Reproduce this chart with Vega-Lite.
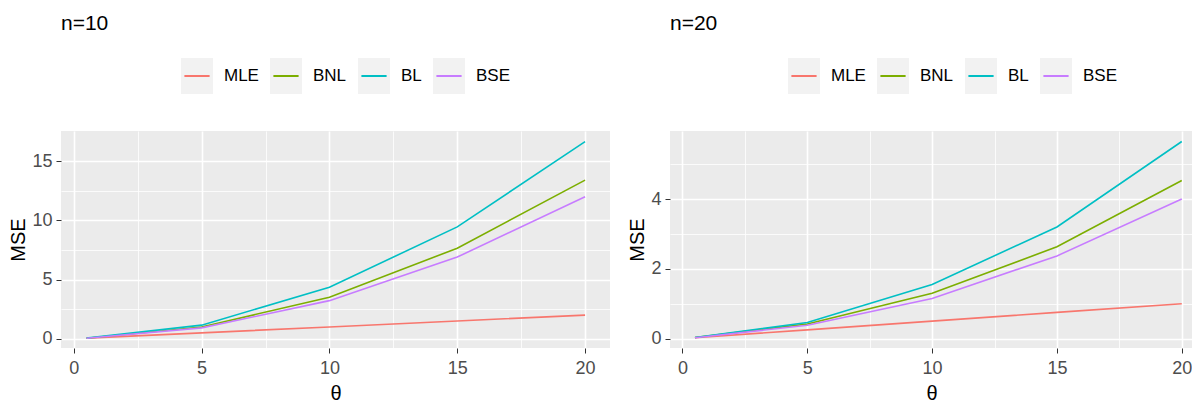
{
  "$schema": "https://vega.github.io/schema/vega-lite/v6.json",
  "padding": {"left": 8, "top": 13, "right": 0, "bottom": 0},
  "config": {
    "font": "Liberation Sans",
    "view": {"fill": "#EBEBEB", "stroke": null},
    "concat": {"spacing": 17},
    "axis": {
      "domain": false,
      "gridColor": "white",
      "tickColor": "#333333",
      "tickSize": 5,
      "labelColor": "#4D4D4D",
      "labelFontSize": 18,
      "labelFont": "Liberation Sans",
      "titleFont": "Liberation Sans",
      "titleFontSize": 20,
      "titleFontWeight": "normal",
      "titleColor": "#000000"
    },
    "legend": {
      "padding": 0,
      "labelFont": "Liberation Sans",
      "labelFontSize": 17,
      "labelColor": "#000000",
      "labelOffset": 8,
      "columnPadding": 6,
      "symbolSize": 1296,
      "symbolType": "M-0.7,0H0.89V-1H-0.89V1H0.89V0Z",
      "symbolFillColor": "#F2F2F2",
      "symbolStrokeWidth": 2,
      "symbolDash": [25.2, 400],
      "orient": "none",
      "direction": "horizontal",
      "title": null
    },
    "title": {"anchor": "start", "frame": "group", "fontSize": 21, "fontWeight": "normal", "color": "#000000", "font": "Liberation Sans", "offset": 23}
  },
  "datasets": {
    "d10": [
      {"theta": 0.5, "method": "MLE", "mse": 0.05},
      {"theta": 5, "method": "MLE", "mse": 0.5},
      {"theta": 10, "method": "MLE", "mse": 1.0},
      {"theta": 15, "method": "MLE", "mse": 1.5},
      {"theta": 20, "method": "MLE", "mse": 2.0},
      {"theta": 0.5, "method": "BNL", "mse": 0.05},
      {"theta": 5, "method": "BNL", "mse": 1.0},
      {"theta": 10, "method": "BNL", "mse": 3.5},
      {"theta": 15, "method": "BNL", "mse": 7.65},
      {"theta": 20, "method": "BNL", "mse": 13.4},
      {"theta": 0.5, "method": "BL", "mse": 0.06},
      {"theta": 5, "method": "BL", "mse": 1.15},
      {"theta": 10, "method": "BL", "mse": 4.35},
      {"theta": 15, "method": "BL", "mse": 9.45},
      {"theta": 20, "method": "BL", "mse": 16.65},
      {"theta": 0.5, "method": "BSE", "mse": 0.04},
      {"theta": 5, "method": "BSE", "mse": 0.92},
      {"theta": 10, "method": "BSE", "mse": 3.22},
      {"theta": 15, "method": "BSE", "mse": 6.9},
      {"theta": 20, "method": "BSE", "mse": 12.0}
    ],
    "d20": [
      {"theta": 0.5, "method": "MLE", "mse": 0.025},
      {"theta": 5, "method": "MLE", "mse": 0.25},
      {"theta": 10, "method": "MLE", "mse": 0.5},
      {"theta": 15, "method": "MLE", "mse": 0.75},
      {"theta": 20, "method": "MLE", "mse": 1.0},
      {"theta": 0.5, "method": "BNL", "mse": 0.03},
      {"theta": 5, "method": "BNL", "mse": 0.42},
      {"theta": 10, "method": "BNL", "mse": 1.3},
      {"theta": 15, "method": "BNL", "mse": 2.63},
      {"theta": 20, "method": "BNL", "mse": 4.53},
      {"theta": 0.5, "method": "BL", "mse": 0.03},
      {"theta": 5, "method": "BL", "mse": 0.46},
      {"theta": 10, "method": "BL", "mse": 1.55},
      {"theta": 15, "method": "BL", "mse": 3.2},
      {"theta": 20, "method": "BL", "mse": 5.65},
      {"theta": 0.5, "method": "BSE", "mse": 0.025},
      {"theta": 5, "method": "BSE", "mse": 0.38},
      {"theta": 10, "method": "BSE", "mse": 1.15},
      {"theta": 15, "method": "BSE", "mse": 2.37},
      {"theta": 20, "method": "BSE", "mse": 4.0}
    ]
  },
  "hconcat": [
    {
      "title": {"text": "n=10"},
      "width": 549,
      "height": 217,
      "data": {"name": "d10"},
      "mark": {"type": "line", "strokeWidth": 1.6},
      "encoding": {
        "x": {"field": "theta", "type": "quantitative", "title": "θ",
          "scale": {"domain": [-0.5, 20.975], "nice": false, "zero": false},
          "axis": {"values": [0, 2.5, 5, 7.5, 10, 12.5, 15, 17.5, 20], "labelExpr": "datum.value % 5 === 0 ? datum.label : ''",
            "gridWidth": {"condition": {"test": "datum.value % 5 !== 0", "value": 0.8}, "value": 1.6},
            "tickOpacity": {"condition": {"test": "datum.value % 5 !== 0", "value": 0}, "value": 1},
            "labelPadding": 6, "titlePadding": 6}},
        "y": {"field": "mse", "type": "quantitative", "title": "MSE",
          "scale": {"domain": [-0.78, 17.55], "nice": false, "zero": false},
          "axis": {"values": [0, 2.5, 5, 7.5, 10, 12.5, 15], "labelExpr": "datum.value % 5 === 0 ? datum.label : ''",
            "gridWidth": {"condition": {"test": "datum.value % 5 !== 0", "value": 0.8}, "value": 1.6},
            "tickOpacity": {"condition": {"test": "datum.value % 5 !== 0", "value": 0}, "value": 1},
            "labelPadding": 4, "titlePadding": 3}},
        "color": {"field": "method", "type": "nominal",
          "scale": {"domain": ["MLE", "BNL", "BL", "BSE"], "range": ["#F8766D", "#7CAE00", "#00BFC4", "#C77CFF"]},
          "legend": {"legendX": 117, "legendY": -74}}
      }
    },
    {
      "title": {"text": "n=20"},
      "width": 523,
      "height": 217,
      "data": {"name": "d20"},
      "mark": {"type": "line", "strokeWidth": 1.6},
      "encoding": {
        "x": {"field": "theta", "type": "quantitative", "title": "θ",
          "scale": {"domain": [-0.5, 20.45], "nice": false, "zero": false},
          "axis": {"values": [0, 2.5, 5, 7.5, 10, 12.5, 15, 17.5, 20], "labelExpr": "datum.value % 5 === 0 ? datum.label : ''",
            "gridWidth": {"condition": {"test": "datum.value % 5 !== 0", "value": 0.8}, "value": 1.6},
            "tickOpacity": {"condition": {"test": "datum.value % 5 !== 0", "value": 0}, "value": 1},
            "labelPadding": 6, "titlePadding": 6}},
        "y": {"field": "mse", "type": "quantitative", "title": "MSE",
          "scale": {"domain": [-0.27, 5.95], "nice": false, "zero": false},
          "axis": {"values": [0, 1, 2, 3, 4, 5], "labelExpr": "datum.value % 2 === 0 ? datum.label : ''",
            "gridWidth": {"condition": {"test": "datum.value % 2 !== 0", "value": 0.8}, "value": 1.6},
            "tickOpacity": {"condition": {"test": "datum.value % 2 !== 0", "value": 0}, "value": 1},
            "labelPadding": 4, "titlePadding": 3}},
        "color": {"field": "method", "type": "nominal",
          "scale": {"domain": ["MLE", "BNL", "BL", "BSE"], "range": ["#F8766D", "#7CAE00", "#00BFC4", "#C77CFF"]},
          "legend": {"legendX": 115, "legendY": -74}}
      }
    }
  ],
  "resolve": {
    "scale": {"color": "independent", "x": "independent", "y": "independent"},
    "legend": {"color": "independent"}
  }
}
